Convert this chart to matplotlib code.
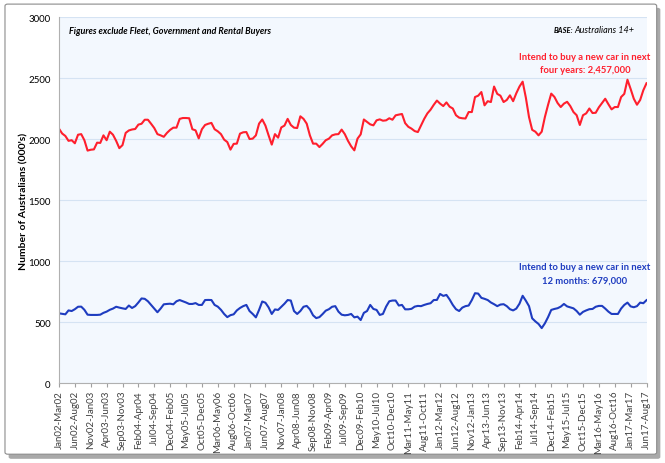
import matplotlib.pyplot as plt
import numpy as np
import pandas as pd
from matplotlib.patches import FancyBboxPatch

plt.rcParams['font.family'] = ['Lato', 'DejaVu Sans']

# rolling 3-month periods, Jan02-Mar02 .. Jun17-Aug17
starts = pd.date_range('2002-01-01', '2017-06-01', freq='MS')
periods = [s.strftime('%b%y') + '-' + (s + pd.DateOffset(months=2)).strftime('%b%y') for s in starts]

# intend to buy a new car in next four years (000's)
four_years = [
    2085, 2045, 2025, 1985, 1990, 1965, 2035, 2040, 1990, 1905,
    1912, 1915, 1970, 1968, 2030, 1990, 2060, 2035, 1985, 1925,
    1950, 2050, 2070, 2078, 2082, 2118, 2125, 2158, 2158, 2125,
    2090, 2040, 2030, 2018, 2050, 2075, 2093, 2093, 2165, 2172,
    2172, 2170, 2080, 2071, 2005, 2080, 2115, 2125, 2132, 2080,
    2063, 2040, 1995, 1975, 1913, 1960, 1962, 2044, 2055, 2057,
    2000, 2003, 2030, 2126, 2160, 2110, 2030, 1954, 2040, 2011,
    2095, 2110, 2165, 2115, 2093, 2090, 2186, 2165, 2126, 2030,
    1962, 1962, 1934, 1960, 1990, 2003, 2030, 2038, 2040, 2077,
    2040, 1985, 1940, 1907, 2003, 2038, 2160, 2140, 2120, 2112,
    2153, 2161, 2150, 2153, 2170, 2158, 2194, 2200, 2205, 2130,
    2100, 2085, 2065, 2057, 2110, 2165, 2210, 2240, 2280, 2315,
    2290, 2270, 2300, 2265, 2250, 2195, 2175, 2170, 2168, 2221,
    2221, 2344, 2355, 2385, 2276, 2310, 2303, 2430, 2370, 2355,
    2303, 2320, 2358, 2310, 2375, 2430, 2470, 2340, 2180, 2075,
    2060, 2030, 2060, 2180, 2280, 2372, 2345, 2295, 2262, 2290,
    2305, 2270, 2221, 2195, 2115, 2195, 2210, 2250, 2213, 2215,
    2260, 2295, 2330, 2285, 2243, 2262, 2262, 2344, 2370, 2486,
    2410, 2330, 2281, 2320, 2400, 2457,
]

# intend to buy a new car in next 12 months (000's)
twelve_months = [
    571, 567, 563, 595, 590, 605, 625, 626, 600, 560,
    558, 558, 558, 560, 575, 585, 600, 610, 625, 618,
    612, 607, 635, 615, 630, 660, 693, 690, 670, 640,
    610, 580, 610, 645, 648, 650, 645, 670, 680, 670,
    660, 648, 648, 655, 640, 640, 680, 681, 680, 640,
    626, 600, 566, 540, 556, 563, 595, 615, 630, 640,
    590, 566, 538, 599, 668, 658, 620, 566, 603, 599,
    625, 650, 680, 676, 590, 566, 590, 625, 632, 604,
    555, 532, 540, 565, 593, 605, 625, 630, 585, 560,
    555, 558, 566, 538, 544, 516, 575, 590, 640, 607,
    599, 558, 566, 626, 670, 676, 676, 635, 640, 604,
    604, 608, 626, 632, 630, 640, 648, 654, 680, 681,
    730, 714, 722, 685, 640, 605, 590, 618, 630, 635,
    680, 736, 733, 698, 690, 680, 660, 646, 630, 643,
    646, 630, 605, 595, 610, 650, 715, 675, 630, 530,
    505, 484, 450, 489, 540, 599, 607, 613, 626, 648,
    628, 620, 612, 590, 560, 583, 595, 605, 607, 625,
    632, 632, 610, 585, 566, 566, 566, 610, 640, 659,
    628, 621, 630, 659, 654, 679,
]

red = '#FF1F2D'
blue = '#1E3CC0'

fig = plt.figure(figsize=(6.65, 4.64), dpi=100)

# frame with shadow
shadow = FancyBboxPatch((0.013, 0.009), 0.98, 0.972, boxstyle='round,pad=0,rounding_size=0.004',
                        transform=fig.transFigure, facecolor='#A9A9A9', edgecolor='none', zorder=0)
frame = FancyBboxPatch((0.0075, 0.019), 0.98, 0.97, boxstyle='round,pad=0,rounding_size=0.004',
                       transform=fig.transFigure, facecolor='white', edgecolor='#8C8C8C', lw=0.8, zorder=1)
fig.patches.extend([shadow, frame])

ax = fig.add_axes([0.0887, 0.1724, 0.8835, 0.7888])
ax.set_facecolor('#F3F8FE')
ax.set_zorder(2)

x = np.arange(len(periods))
ax.plot(x, four_years, color=red, lw=1.5)
ax.plot(x, twelve_months, color=blue, lw=1.5)

ax.set_xlim(0, len(periods) - 1)
ax.set_ylim(0, 3000)
ax.set_yticks(range(0, 3001, 500))
ax.grid(axis='y', color='#D5E3F3', lw=0.8)
ax.set_axisbelow(True)

ax.set_xticks(x[::5])
ax.set_xticklabels(periods[::5], rotation=90, fontsize=7, color='#404040')
ax.tick_params(axis='x', length=3, color='#A0A0A0', pad=2)
ax.tick_params(axis='y', length=0, labelsize=7, pad=6)

for side in ['top', 'right']:
    ax.spines[side].set_visible(False)
ax.spines['left'].set_color('#B0B0B0')
ax.spines['bottom'].set_color('#B0B0B0')

ax.set_ylabel("Number of Australians (000's)", fontsize=7.5, fontweight='bold')
ax.yaxis.set_label_coords(-0.052, 0.5)

ax.text(0.017, 0.975, 'Figures exclude Fleet, Government and Rental Buyers', transform=ax.transAxes,
        fontsize=6.5, fontweight='bold', style='italic', va='top', ha='left')
ax.text(0.875, 0.975, 'BASE:', transform=ax.transAxes, fontsize=5.5, fontweight='bold',
        style='italic', va='top', ha='right')
ax.text(0.877, 0.977, 'Australians 14+', transform=ax.transAxes, fontsize=6.5, style='italic',
        va='top', ha='left')

ax.text(0.895, 0.905, 'Intend to buy a new car in next\nfour years: 2,457,000', transform=ax.transAxes,
        color=red, fontsize=6.8, fontweight='bold', ha='center', va='top', linespacing=1.6)
ax.text(0.895, 0.33, 'Intend to buy a new car in next\n12 months: 679,000', transform=ax.transAxes,
        color=blue, fontsize=6.8, fontweight='bold', ha='center', va='top', linespacing=1.6)

fig.savefig('out.png', dpi=100)
